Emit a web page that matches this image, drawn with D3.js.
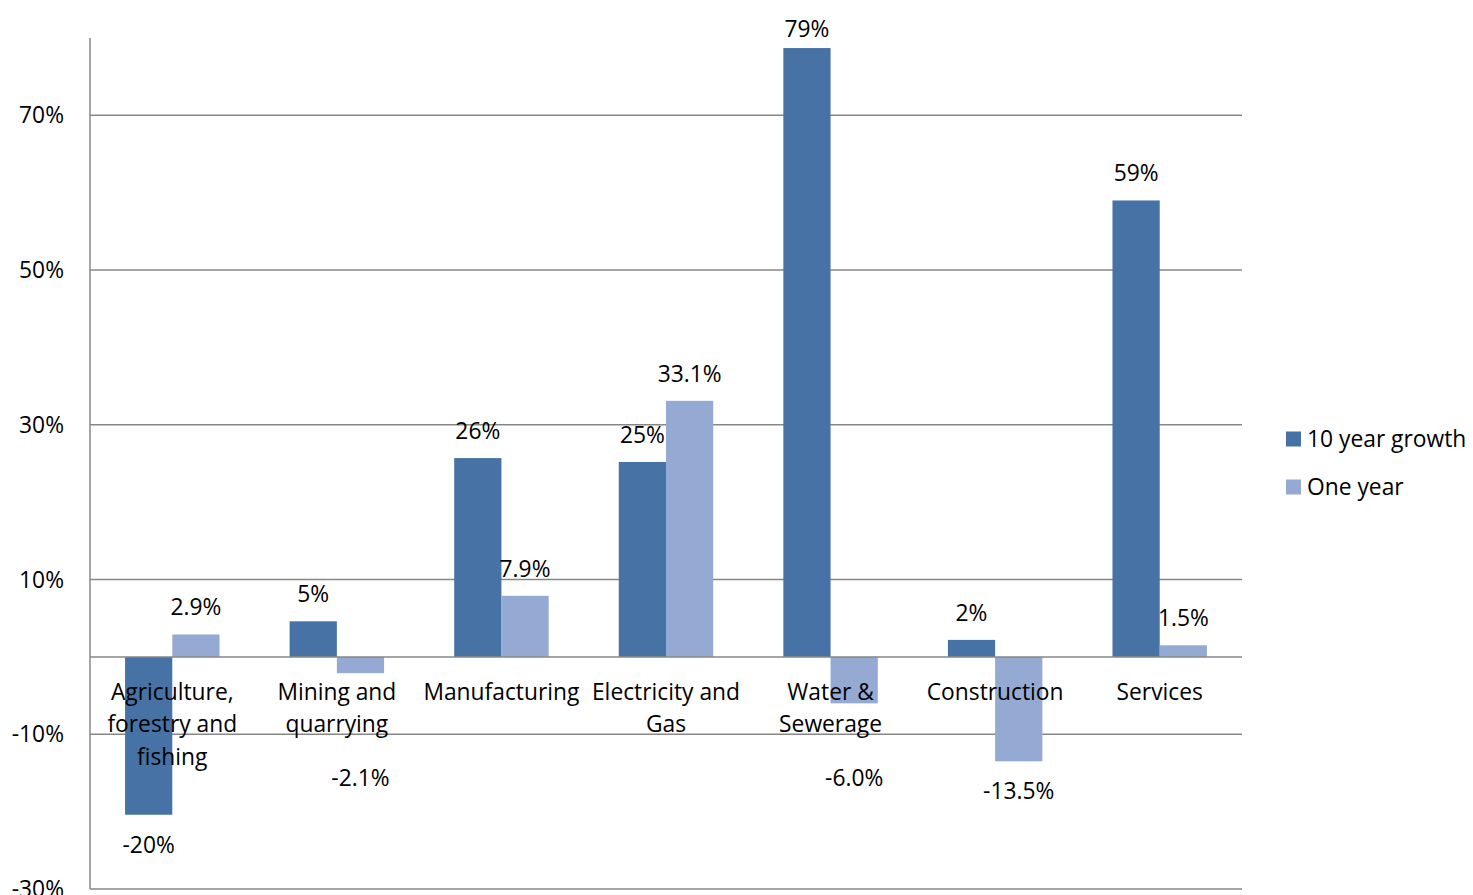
<!DOCTYPE html>
<html>
<head>
<meta charset="utf-8">
<script src="https://cdn.jsdelivr.net/npm/d3@7"></script>
<style>
  body { margin: 0; background: #fff; }
  svg text { font-family: 'Open Sans', sans-serif; fill: #000; }
</style>
</head>
<body>
<svg id="chart" width="1473" height="895"></svg>
<script>
var categories = ['Agriculture,\nforestry and\nfishing', 'Mining and\nquarrying', 'Manufacturing',
    'Electricity and\nGas', 'Water &\nSewerage', 'Construction', 'Services']
var tenYear = [-20.4, 4.6, 25.7, 25.2, 78.7, 2.2, 59.0]
var tenYearLabels = ['-20%', '5%', '26%', '25%', '79%', '2%', '59%']
var oneYear = [2.9, -2.1, 7.9, 33.1, -6.0, -13.5, 1.5]
var oneYearLabels = ['2.9%', '-2.1%', '7.9%', '33.1%', '-6.0%', '-13.5%', '1.5%']
var seriesNames = ['10 year growth', 'One year']
var yTicks = [-30, -10, 10, 30, 50, 70]

var colors = ['#4672a6', '#95aad2']
var plotLeft = 90, plotRight = 1242, plotTop = 38, plotBottom = 889
var fontSize = '22.8px'

var svg = d3.select('#chart')

var x = d3.scaleBand()
    .domain(d3.range(categories.length))
    .range([plotLeft, plotRight])

var y = d3.scaleLinear().domain([-30, 80]).range([plotBottom, plotTop])

var barW = x.bandwidth() * 0.287

// gridlines
svg.append('g').selectAll('line')
    .data(yTicks)
    .enter()
    .append('line')
    .attr('x1', plotLeft)
    .attr('x2', plotRight)
    .attr('y1', function(d) { return y(d) })
    .attr('y2', function(d) { return y(d) })
    .style('stroke', '#878787')
    .style('stroke-width', 1.5)

// y tick labels
svg.append('g').selectAll('text')
    .data(yTicks)
    .enter()
    .append('text')
    .attr('x', 64)
    .attr('y', function(d) { return y(d) })
    .attr('dy', '0.35em')
    .attr('text-anchor', 'end')
    .style('font-size', fontSize)
    .text(function(d) { return d + '%' })

var series = [tenYear, oneYear]
var seriesLabels = [tenYearLabels, oneYearLabels]

series.forEach(function(vals, s) {
    svg.append('g').selectAll('rect')
        .data(vals)
        .enter()
        .append('rect')
        .attr('x', function(d, i) { return x(i) + x.bandwidth() / 2 - barW + s * barW })
        .attr('width', barW)
        .attr('y', function(d) { return y(Math.max(0, d)) })
        .attr('height', function(d) { return Math.abs(y(d) - y(0)) })
        .style('fill', colors[s])
})

// zero line over bars
svg.append('line')
    .attr('x1', plotLeft)
    .attr('x2', plotRight)
    .attr('y1', y(0))
    .attr('y2', y(0))
    .style('stroke', '#878787')
    .style('stroke-width', 1.5)

// left axis line
svg.append('line')
    .attr('x1', plotLeft)
    .attr('x2', plotLeft)
    .attr('y1', plotTop)
    .attr('y2', plotBottom)
    .style('stroke', '#878787')
    .style('stroke-width', 1.5)

// category labels sit on top of the bars
var catLayer = svg.append('g')
categories.forEach(function(c, i) {
    var t = catLayer.append('text')
        .attr('text-anchor', 'middle')
        .style('font-size', fontSize)
    c.split('\n').forEach(function(line, k) {
        t.append('tspan')
            .attr('x', x(i) + x.bandwidth() / 2)
            .attr('y', y(0) + 35 + k * 32.5)
            .attr('dy', '0.35em')
            .text(line)
    })
})

// value labels
series.forEach(function(vals, s) {
    svg.append('g').selectAll('text')
        .data(vals)
        .enter()
        .append('text')
        .attr('x', function(d, i) { return x(i) + x.bandwidth() / 2 - barW / 2 + s * barW })
        .attr('y', function(d) {
            if (d >= 0)
                return Math.max(y(d) - 27, 29)
            // keep negative labels clear of the category names
            return Math.max(y(d) + 30, 778)
        })
        .attr('dy', '0.35em')
        .attr('text-anchor', 'middle')
        .style('font-size', fontSize)
        .text(function(d, i) { return seriesLabels[s][i] })
})

// legend
var legend = svg.append('g').selectAll('g')
    .data(seriesNames)
    .enter()
    .append('g')
    .attr('transform', function(d, i) { return 'translate(1286,' + (439 + i * 48) + ')' })

legend.append('rect')
    .attr('x', 0)
    .attr('y', -7.5)
    .attr('width', 15)
    .attr('height', 15)
    .style('fill', function(d, i) { return colors[i] })

legend.append('text')
    .attr('x', 21)
    .attr('y', 0)
    .attr('dy', '0.35em')
    .style('font-size', fontSize)
    .text(function(d) { return d })
</script>
</body>
</html>
